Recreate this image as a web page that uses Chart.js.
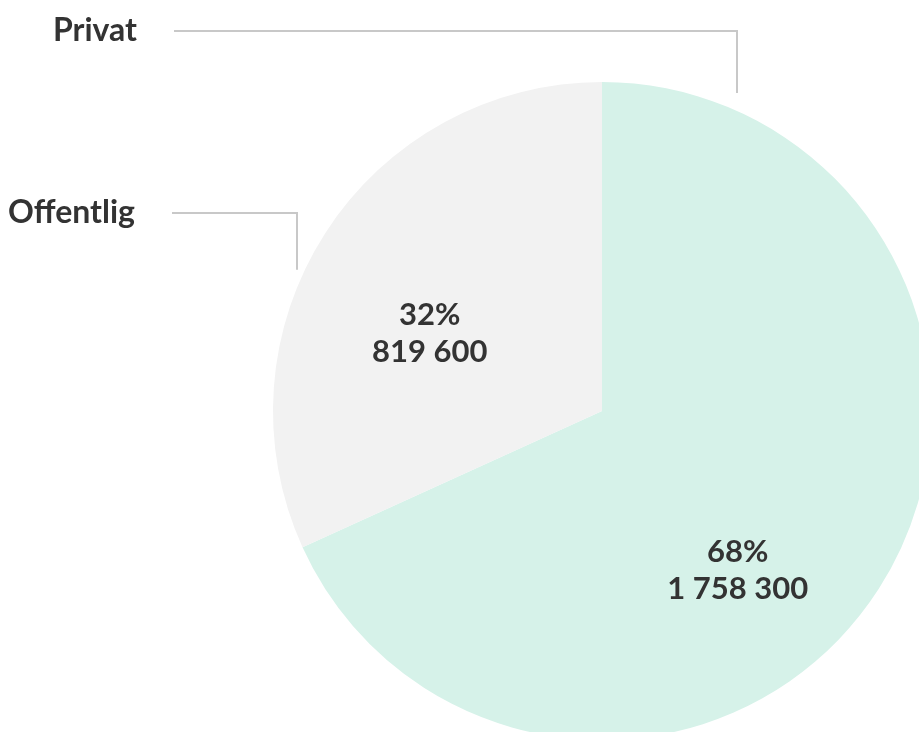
<!DOCTYPE html>
<html lang="no">

<head>
  <meta charset="UTF-8">
  <title>Sysselsatte etter sektor</title>
  <script src="https://cdn.jsdelivr.net/npm/chart.js"></script>
  <style>
    html, body { margin: 0; padding: 0; background: #fff; overflow: hidden; }
    #sektor { display: block; }
  </style>
</head>

<body>
  <canvas id="sektor" width="919" height="732"></canvas>
</body>

</html>
<script>
  // Sektorer og antall
  var sektorer = ['Privat', 'Offentlig'];
  var antall = [1758300, 819600];
  var farger = ['#d6f2e9', '#f2f2f2'];

  // Plassering av tekst inne i sektorene (vinkel i grader, andel av radius)
  var tekstVinkel = [49.5, 204.4];
  var tekstAvstand = [0.635, 0.575];
  // Hvor linjen fra navnet treffer sirkelen, og navnets høyde
  var linjeVinkel = [-65.8, 202];
  var navnY = [31, 213];
  var navnHoyre = [137, 135];

  var tekstFarge = '#333333';
  var linjeFarge = '#c8c8c8';

  function formaterTall(n) {
    return String(n).replace(/\B(?=(\d{3})+(?!\d))/g, ' ');
  }

  var totalt = antall.reduce(function (a, b) { return a + b; }, 0);

  // Tegner prosent, antall og navn med linjer
  var etiketter = {
    id: 'etiketter',
    afterDatasetsDraw: function (chart) {
      var ctx = chart.ctx;
      var buer = chart.getDatasetMeta(0).data;
      ctx.save();
      ctx.fillStyle = tekstFarge;
      ctx.font = 'bold 31px Lato';
      ctx.textAlign = 'center';
      ctx.textBaseline = 'middle';

      for (var i = 0; i < buer.length; i++) {
        var bue = buer[i];
        var r = bue.outerRadius;
        var v = tekstVinkel[i] * Math.PI / 180;
        var tx = bue.x + Math.cos(v) * r * tekstAvstand[i];
        var ty = bue.y + Math.sin(v) * r * tekstAvstand[i];
        var prosent = Math.round(antall[i] / totalt * 100) + '%';
        ctx.fillText(prosent, tx, ty - 18);
        ctx.fillText(formaterTall(antall[i]), tx, ty + 19);
      }

      // navn til venstre med knekt linje ned mot sirkelen
      ctx.textAlign = 'right';
      ctx.font = 'bold 32px Lato';
      for (var j = 0; j < buer.length; j++) {
        var b = buer[j];
        var lv = linjeVinkel[j] * Math.PI / 180;
        var lx = b.x + Math.cos(lv) * b.outerRadius;
        var ly = b.y + Math.sin(lv) * b.outerRadius - 18;
        var y = navnY[j];
        ctx.fillText(sektorer[j], navnHoyre[j], y);

        ctx.beginPath();
        ctx.strokeStyle = linjeFarge;
        ctx.lineWidth = 2;
        ctx.moveTo(navnHoyre[j] + 37, y);
        ctx.lineTo(Math.round(lx), y);
        ctx.lineTo(Math.round(lx), ly);
        ctx.stroke();
      }
      ctx.restore();
    }
  };

  var ctx = document.getElementById('sektor').getContext('2d');
  var kake = new Chart(ctx, {
    type: 'pie',
    data: {
      labels: sektorer,
      datasets: [{
        data: antall,
        backgroundColor: farger,
        borderWidth: 0,
        radius: 329,
        clip: false
      }]
    },
    options: {
      responsive: false,
      animation: false,
      layout: { padding: { left: 285, top: 90, right: 0, bottom: 0 } },
      plugins: {
        legend: { display: false },
        tooltip: { enabled: false }
      }
    },
    plugins: [etiketter]
  });
</script>
